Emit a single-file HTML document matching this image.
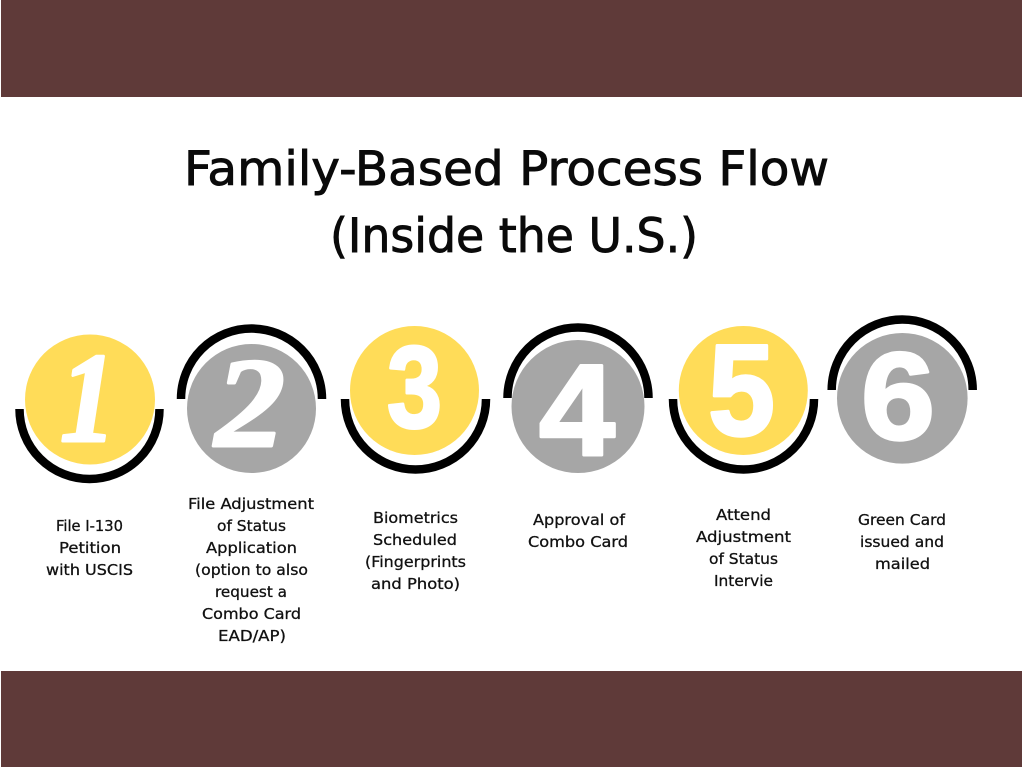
<!DOCTYPE html>
<html><head><meta charset="utf-8"><style>
html,body{margin:0;padding:0;background:#fff}
svg{display:block}
.t{font-family:"DejaVu Sans","Liberation Sans",sans-serif;font-size:47px;fill:#0a0a0a;stroke:#0a0a0a;stroke-width:.9px}
.l{font-family:"DejaVu Sans","Liberation Sans",sans-serif;font-size:15.500px;fill:#111;stroke:#111;stroke-width:.3px}
.d{font-family:"Liberation Serif",serif;font-weight:bold;font-style:italic;font-size:128px;fill:#fff;stroke:#fff;stroke-width:3px;stroke-linejoin:round}
.s{font-family:"Liberation Sans",sans-serif;font-weight:bold;fill:#fff;stroke:#fff;stroke-width:3px;stroke-linejoin:round}
.a{fill:none;stroke:#000;stroke-width:8.500}
</style></head><body>
<svg width="1024" height="768" viewBox="0 0 1024 768" xmlns="http://www.w3.org/2000/svg">
<rect width="1024" height="768" fill="#fff"/>
<rect x="1" y="0" width="1021" height="97" fill="#5f3a39"/>
<rect x="1" y="671" width="1021" height="96" fill="#5f3a39"/>
<text class="t" x="184" y="185" textLength="645" lengthAdjust="spacingAndGlyphs">Family-Based Process Flow</text>
<text class="t" x="330" y="252" textLength="368" lengthAdjust="spacingAndGlyphs">(Inside the U.S.)</text>

<path class="a" d="M19.500 409A70 70 0 0 0 159.500 409"/>
<path class="a" d="M181 399A70.500 70.500 0 0 1 322 399"/>
<path class="a" d="M345 399A70.500 70.500 0 0 0 486 399"/>
<path class="a" d="M507.500 398A70.500 70.500 0 0 1 648.500 398"/>
<path class="a" d="M673 399A70.500 70.500 0 0 0 814 399"/>
<path class="a" d="M831.700 390A70.500 70.500 0 0 1 972.700 390"/>

<circle cx="90" cy="399.500" r="65" fill="#ffdc58"/>
<circle cx="251.500" cy="408.500" r="64.500" fill="#a6a6a6"/>
<circle cx="414.500" cy="390.500" r="64.500" fill="#ffdc58"/>
<circle cx="578" cy="406.500" r="66.500" fill="#a6a6a6"/>
<circle cx="743.300" cy="390.500" r="64.500" fill="#ffdc58"/>
<circle cx="902.300" cy="398.300" r="65.300" fill="#a6a6a6"/>

<text class="d" x="60" y="441" textLength="56" lengthAdjust="spacingAndGlyphs">1</text>
<text class="d" x="215" y="446" textLength="70" lengthAdjust="spacingAndGlyphs">2</text>
<text class="s" font-size="116" x="387" y="427" textLength="55" lengthAdjust="spacingAndGlyphs">3</text>
<text class="s" font-size="130" x="539" y="455" textLength="76" lengthAdjust="spacingAndGlyphs">4</text>
<text class="s" font-size="130" x="708" y="435" textLength="67" lengthAdjust="spacingAndGlyphs">5</text>
<text class="s" font-size="124" x="861" y="439" textLength="74" lengthAdjust="spacingAndGlyphs">6</text>

<text class="l" x="56" y="531" textLength="67" lengthAdjust="spacingAndGlyphs">File I-130</text>
<text class="l" x="59" y="553" textLength="62" lengthAdjust="spacingAndGlyphs">Petition</text>
<text class="l" x="46" y="575" textLength="87" lengthAdjust="spacingAndGlyphs">with USCIS</text>

<text class="l" x="188" y="509" textLength="126" lengthAdjust="spacingAndGlyphs">File Adjustment</text>
<text class="l" x="217" y="531" textLength="69" lengthAdjust="spacingAndGlyphs">of Status</text>
<text class="l" x="206" y="553" textLength="91" lengthAdjust="spacingAndGlyphs">Application</text>
<text class="l" x="195" y="575" textLength="113" lengthAdjust="spacingAndGlyphs">(option to also</text>
<text class="l" x="215" y="597" textLength="72" lengthAdjust="spacingAndGlyphs">request a</text>
<text class="l" x="202" y="619" textLength="99" lengthAdjust="spacingAndGlyphs">Combo Card</text>
<text class="l" x="218" y="641" textLength="68" lengthAdjust="spacingAndGlyphs">EAD/AP)</text>

<text class="l" x="373" y="523" textLength="85" lengthAdjust="spacingAndGlyphs">Biometrics</text>
<text class="l" x="373" y="545" textLength="84" lengthAdjust="spacingAndGlyphs">Scheduled</text>
<text class="l" x="365" y="567" textLength="101" lengthAdjust="spacingAndGlyphs">(Fingerprints</text>
<text class="l" x="371" y="589" textLength="89" lengthAdjust="spacingAndGlyphs">and Photo)</text>

<text class="l" x="533" y="525" textLength="92" lengthAdjust="spacingAndGlyphs">Approval of</text>
<text class="l" x="528" y="547" textLength="100" lengthAdjust="spacingAndGlyphs">Combo Card</text>

<text class="l" x="716" y="520" textLength="55" lengthAdjust="spacingAndGlyphs">Attend</text>
<text class="l" x="696" y="542" textLength="95" lengthAdjust="spacingAndGlyphs">Adjustment</text>
<text class="l" x="709" y="564" textLength="69" lengthAdjust="spacingAndGlyphs">of Status</text>
<text class="l" x="714" y="586" textLength="59" lengthAdjust="spacingAndGlyphs">Intervie</text>

<text class="l" x="858" y="525" textLength="88" lengthAdjust="spacingAndGlyphs">Green Card</text>
<text class="l" x="860" y="547" textLength="84" lengthAdjust="spacingAndGlyphs">issued and</text>
<text class="l" x="875" y="569" textLength="55" lengthAdjust="spacingAndGlyphs">mailed</text>
</svg>
</body></html>
